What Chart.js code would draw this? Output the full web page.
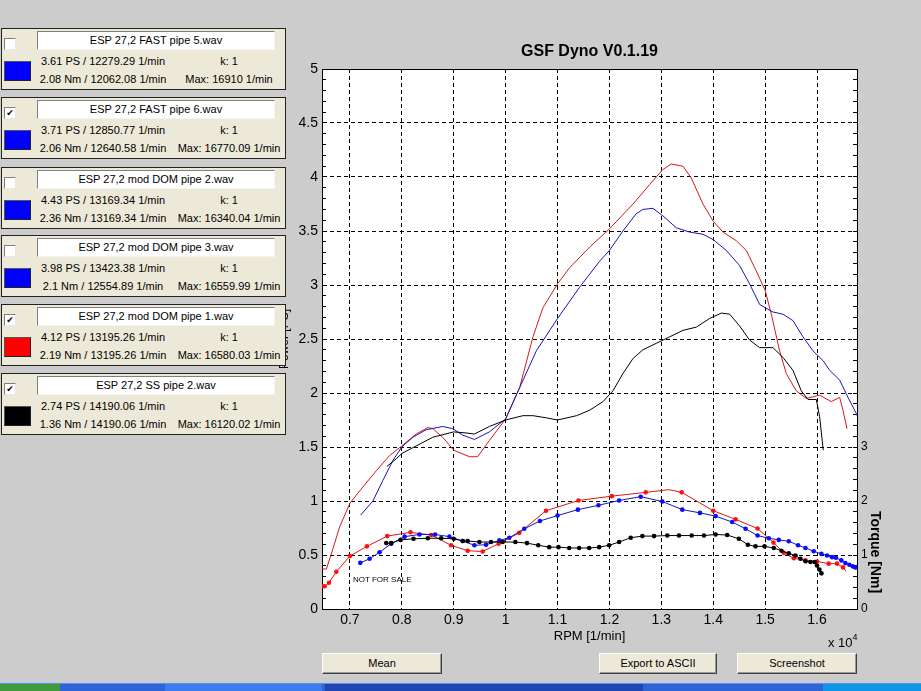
<!DOCTYPE html>
<html><head><meta charset="utf-8">
<script src="https://cdn.jsdelivr.net/npm/chart.js@4.4.1/dist/chart.umd.min.js"></script>
<style>
html,body{margin:0;padding:0;}
body{width:921px;height:691px;overflow:hidden;background:#cccccc;position:relative;font-family:"Liberation Sans",Arial,sans-serif;color:#000;}
#wrap{position:absolute;left:0;top:0;width:921px;height:691px;}
canvas{display:block;}
.panel{position:absolute;left:1px;width:283px;height:60px;border:1px solid #222;background:#ece9d8;z-index:5;}
.cb{position:absolute;left:2px;top:9px;width:10px;height:10px;background:#fff;border:1px solid;border-color:#808080 #e8e8e8 #e8e8e8 #808080;font-size:9px;line-height:10px;text-align:center;font-family:"DejaVu Sans",sans-serif;font-weight:bold;}
.tbox{position:absolute;left:35px;top:2px;width:236px;height:17px;background:#fff;border:1px solid;border-color:#808080 #f4f4f4 #f4f4f4 #808080;font-size:11px;line-height:17px;text-align:center;white-space:nowrap;}
.sw{position:absolute;left:2px;top:32px;width:25px;height:18px;border:1px solid;border-color:#555 #222 #222 #555;}
.txt{position:absolute;width:160px;margin-left:-80px;height:14px;line-height:14px;font-size:11px;text-align:center;white-space:nowrap;}
.btn{position:absolute;top:653px;height:19px;background:#ece9d8;border:1px solid;border-color:#fff #404040 #404040 #fff;box-shadow:inset -1px -1px #9a9a9a;font-size:11px;text-align:center;line-height:19px;}
#taskbar{position:absolute;left:0;top:683px;width:921px;height:8px;background:#2f64d6;border-top:1px solid #5a8df0;box-sizing:border-box;}
.tb{position:absolute;top:684px;height:7px;}
</style></head><body>
<div id="wrap"><canvas id="c" width="921" height="691"></canvas></div>
<div id="panels"></div>
<div style="position:absolute;left:353px;top:575px;font-size:8px;line-height:10px;white-space:nowrap;">NOT FOR SALE</div>
<div style="position:absolute;left:828px;top:635px;font-size:13px;line-height:16px;white-space:nowrap;">x 10<sup style="font-size:9px;vertical-align:7px;line-height:0;">4</sup></div>
<div style="position:absolute;left:876px;top:552px;width:0;height:0;"><div style="position:absolute;left:-60px;top:-9px;width:120px;height:18px;line-height:18px;text-align:center;font-size:14px;font-weight:bold;transform:rotate(90deg);white-space:nowrap;">Torque [Nm]</div></div>
<div class="btn" style="left:322px;width:118px;">Mean</div>
<div class="btn" style="left:599px;width:116px;">Export to ASCII</div>
<div class="btn" style="left:737px;width:118px;">Screenshot</div>
<div id="taskbar"></div>
<div class="tb" style="left:0;width:60px;background:#3d9a3d;"></div>
<div class="tb" style="left:165px;width:157px;background:#3b7cf0;"></div>
<div class="tb" style="left:325px;width:318px;background:#1e47b5;"></div>
<div class="tb" style="left:823px;width:98px;background:#0e97e8;"></div>
<script>
// ---------- DATA ----------
const xMin = 6462, xMax = 16770;
const xTickValues = [7000,8000,9000,10000,11000,12000,13000,14000,15000,16000];

// ESP 27,2 mod DOM pipe 1 (red)
const redPowerRpm = [6462,6546,6642,6802,7000,7250,7508,7763,8000,8277,8500,8596,8788,9000,9302,9462,9687,10000,10270,10527,10719,11000,11233,11618,12000,12455,12774,13031,13192,13417,13577,13802,14000,14188,14444,14637,14830,15000,15119,15279,15408,15600,15793,16050,16275,16436,16500,16577];
const redPowerPs  = [0.37,0.37,0.51,0.76,0.98,1.13,1.28,1.42,1.51,1.62,1.68,1.67,1.59,1.47,1.41,1.41,1.56,1.76,2.05,2.52,2.79,3.01,3.16,3.35,3.52,3.75,3.93,4.07,4.12,4.10,3.99,3.75,3.59,3.49,3.41,3.32,3.13,2.95,2.73,2.39,2.18,2.02,1.95,1.98,1.92,1.96,1.84,1.67];
const redTorqueRpm = [6462,6513,6596,6738,7000,7327,7719,8167,8565,8950,9269,9558,9865,10263,10777,11404,12046,12700,13148,13392,14000,14431,14854,15161,15360,15552,15777,16000,16225,16385,16500,16558];
const redTorqueNm  = [0.42,0.42,0.485,0.69,0.98,1.16,1.35,1.42,1.37,1.18,1.08,1.065,1.21,1.41,1.82,2.01,2.09,2.16,2.21,2.16,1.82,1.66,1.49,1.23,1.04,0.94,0.90,0.88,0.84,0.84,0.77,0.70];
const redTorqueMarked = [1,1,1,1,1,1,1,1,1,1,1,1,1,1,1,1,1,1,0,1,1,1,1,1,1,1,1,1,1,1,1,0];

// ESP 27,2 FAST pipe 6 (blue)
const bluePowerRpm = [7206,7443,7635,7827,8000,8212,8469,8788,8981,9173,9398,9687,10000,10270,10591,11000,11426,11811,12000,12260,12516,12645,12838,13031,13288,13545,13802,14000,14252,14509,14701,14894,15000,15151,15343,15536,15729,15922,16115,16243,16436,16596,16757,16770];
const bluePowerPs  = [0.87,1.00,1.19,1.375,1.50,1.59,1.66,1.69,1.67,1.61,1.57,1.64,1.76,2.05,2.39,2.69,2.98,3.22,3.32,3.50,3.66,3.70,3.71,3.64,3.53,3.49,3.47,3.42,3.32,3.18,3.01,2.82,2.79,2.75,2.73,2.67,2.52,2.39,2.30,2.21,2.12,1.96,1.81,1.79];
const blueTorqueRpm = [7200,7379,7571,7796,8052,8340,8642,8917,9173,9398,9623,9879,10071,10360,10661,11000,11392,11788,12186,12603,13019,13404,13744,14046,14365,14623,14854,15071,15263,15456,15635,15777,15936,16085,16192,16288,16365,16469,16546,16623,16687,16737];
const blueTorqueNm  = [0.855,0.93,1.05,1.21,1.34,1.38,1.38,1.34,1.26,1.18,1.19,1.27,1.32,1.485,1.63,1.73,1.84,1.92,2.01,2.08,1.99,1.84,1.78,1.72,1.61,1.485,1.36,1.31,1.28,1.255,1.18,1.13,1.07,1.02,0.99,0.96,0.95,0.90,0.85,0.82,0.79,0.77];

// ESP 27,2 SS pipe 2 (black)
const blackPowerRpm = [7712,7892,8000,8277,8596,9000,9238,9398,9687,10000,10334,10527,10784,11000,11366,11618,11875,12068,12260,12455,12645,12903,13160,13417,13674,13931,14155,14316,14509,14701,14894,15151,15343,15536,15697,15825,15986,16050,16120];
const blackPowerPs  = [1.32,1.39,1.44,1.51,1.59,1.64,1.63,1.62,1.69,1.75,1.79,1.79,1.77,1.75,1.79,1.84,1.92,2.02,2.18,2.32,2.40,2.46,2.52,2.58,2.61,2.69,2.74,2.73,2.62,2.49,2.42,2.42,2.33,2.21,2.02,1.94,1.94,1.78,1.47];
const blackTorqueRpm = [7700,7796,7975,8225,8500,8758,9000,9173,9269,9494,9719,9942,10187,10411,10629,10840,11019,11225,11417,11610,11802,11994,12186,12411,12635,12860,13115,13340,13585,13821,14046,14269,14494,14667,14815,14988,15167,15315,15456,15584,15680,15777,15873,15956,16000,16046,16085];
const blackTorqueNm  = [1.22,1.22,1.28,1.30,1.31,1.31,1.30,1.26,1.26,1.24,1.24,1.24,1.24,1.22,1.18,1.145,1.145,1.13,1.13,1.13,1.145,1.18,1.24,1.32,1.35,1.35,1.36,1.36,1.36,1.36,1.38,1.37,1.30,1.19,1.16,1.16,1.13,1.08,1.03,0.99,0.93,0.885,0.87,0.87,0.805,0.73,0.66];

// Legend panels
const panelTitles  = ["ESP 27,2 FAST pipe 5.wav","ESP 27,2 FAST pipe 6.wav","ESP 27,2 mod DOM pipe 2.wav","ESP 27,2 mod DOM pipe 3.wav","ESP 27,2 mod DOM pipe 1.wav","ESP 27,2 SS pipe 2.wav"];
const panelPower   = ["3.61 PS / 12279.29 1/min","3.71 PS / 12850.77 1/min","4.43 PS / 13169.34 1/min","3.98 PS / 13423.38 1/min","4.12 PS / 13195.26 1/min","2.74 PS / 14190.06 1/min"];
const panelTorque  = ["2.08 Nm / 12062.08 1/min","2.06 Nm / 12640.58 1/min","2.36 Nm / 13169.34 1/min","2.1 Nm / 12554.89 1/min","2.19 Nm / 13195.26 1/min","1.36 Nm / 14190.06 1/min"];
const panelK       = ["k: 1","k: 1","k: 1","k: 1","k: 1","k: 1"];
const panelMax     = ["Max: 16910 1/min","Max: 16770.09 1/min","Max: 16340.04 1/min","Max: 16559.99 1/min","Max: 16580.03 1/min","Max: 16120.02 1/min"];
const panelChecked = [false,true,false,false,true,true];
const panelColors  = ["#0000ff","#0000ff","#0000ff","#0000ff","#ff0000","#000000"];
const panelTops    = [28,97,167,235,304,373];

// ---------- PANELS ----------
const pc = document.getElementById('panels');
panelTitles.forEach((t,i)=>{
  const p = document.createElement('div');
  p.className='panel'; p.style.top = panelTops[i]+'px';
  p.innerHTML =
    '<div class="cb">'+(panelChecked[i]?'✔':'')+'</div>'+
    '<div class="tbox">'+t+'</div>'+
    '<div class="sw" style="background:'+panelColors[i]+'"></div>'+
    '<div class="txt" style="left:101px;top:25px">'+panelPower[i]+'</div>'+
    '<div class="txt" style="left:227px;top:25px">'+panelK[i]+'</div>'+
    '<div class="txt" style="left:101px;top:43px">'+panelTorque[i]+'</div>'+
    '<div class="txt" style="left:227px;top:43px">'+panelMax[i]+'</div>';
  pc.appendChild(p);
});

// ---------- CHART ----------
const pts = (xs, ys) => xs.map((x,i)=>({x:x, y:ys[i]}));
const isMajor = v => Math.abs(v*2 - Math.round(v*2)) < 1e-6;
const isInt = v => Math.abs(v - Math.round(v)) < 1e-6;
const FONT = '"Liberation Sans", Arial, sans-serif';
Chart.defaults.font.family = FONT;
Chart.defaults.color = '#000';

const RED_LINE = '#d81818', BLUE_LINE = '#1616b8', BLACK_LINE = '#000000';
const RED_PT = '#ff1010', BLUE_PT = '#0a0aff', BLACK_PT = '#000000';

const whiteArea = {
  id:'whiteArea',
  beforeDraw(chart){
    const {ctx, chartArea:a} = chart;
    ctx.save(); ctx.fillStyle='#ffffff';
    ctx.fillRect(a.left, a.top, a.right-a.left, a.bottom-a.top);
    ctx.restore();
  }
};

function powerDs(label, xs, ys, color){
  return {label, data:pts(xs,ys), yAxisID:'y', xAxisID:'x', borderColor:color, borderWidth:1, pointRadius:0, fill:false, tension:0};
}
function torqueDs(label, xs, ys, color, ptColor, marked){
  return {label, data:pts(xs,ys), yAxisID:'y1', xAxisID:'x', borderColor:color, borderWidth:1,
    pointRadius: marked ? (c => marked[c.dataIndex] ? 2.3 : 0) : 2.3,
    pointBackgroundColor:ptColor, pointBorderWidth:0, fill:false, tension:0};
}

new Chart(document.getElementById('c'), {
  type:'line',
  data:{datasets:[
    powerDs('SS pipe 2 power', blackPowerRpm, blackPowerPs, BLACK_LINE),
    powerDs('FAST pipe 6 power', bluePowerRpm, bluePowerPs, BLUE_LINE),
    powerDs('mod DOM pipe 1 power', redPowerRpm, redPowerPs, RED_LINE),
    torqueDs('SS pipe 2 torque', blackTorqueRpm, blackTorqueNm, BLACK_LINE, BLACK_PT),
    torqueDs('FAST pipe 6 torque', blueTorqueRpm, blueTorqueNm, BLUE_LINE, BLUE_PT),
    torqueDs('mod DOM pipe 1 torque', redTorqueRpm, redTorqueNm, RED_LINE, RED_PT, redTorqueMarked)
  ]},
  options:{
    responsive:false, animation:false, devicePixelRatio:1,
    layout:{padding:{left:277, right:31, top:0, bottom:0}},
    plugins:{
      legend:{display:false}, tooltip:{enabled:false},
      title:{display:true, text:'GSF Dyno V0.1.19', color:'#000', fullSize:false,
        font:{family:FONT, size:16, weight:'bold'}, padding:{top:42.4, bottom:7.4}}
    },
    scales:{
      x:{type:'linear', position:'bottom', min:xMin, max:xMax, bounds:'data',
        afterFit:s=>{s.height=82;},
        afterBuildTicks:s=>{s.ticks = xTickValues.map(v=>({value:v}));},
        ticks:{autoSkip:false, maxRotation:0, padding:3, color:'#000', font:{size:14},
          callback:v=>{const s=(v/10000).toFixed(1); return s.endsWith('.0')?s.slice(0,-2):s;}},
        grid:{color:'#000', lineWidth:1, drawTicks:false},
        border:{display:true, color:'#000', width:1, dash:[4,3]},
        title:{display:true, text:'RPM [1/min]', color:'#000', font:{size:13}, padding:{top:0, bottom:46.5}}
      },
      xTop:{type:'linear', position:'top', min:xMin, max:xMax, bounds:'data',
        afterFit:s=>{s.height=0;},
        ticks:{display:false},
        grid:{drawOnChartArea:false, drawTicks:false},
        border:{display:true, color:'#000', width:1}
      },
      y:{type:'linear', position:'left', min:0, max:5,
        afterFit:s=>{s.width=45;},
        ticks:{stepSize:0.1, autoSkip:false, padding:8, color:'#000', font:{size:14},
          callback:v=> isMajor(v) ? String(Number(v.toFixed(1))) : ''},
        grid:{color:c=> (c.tick && isMajor(c.tick.value)) ? '#000' : 'rgba(0,0,0,0)', tickColor:'#000', tickLength:-4, lineWidth:1},
        border:{display:true, color:'#000', width:1, dash:[4,3]},
        title:{display:true, text:'Power [PS]', color:'#000', font:{size:12}, padding:0}
      },
      y1:{type:'linear', position:'right', min:0, max:10,
        afterFit:s=>{s.width=33;},
        ticks:{stepSize:0.2, autoSkip:false, padding:8, color:'#000', font:{size:12},
          callback:v=> (isInt(v) && v <= 3) ? String(Math.round(v)) : ''},
        grid:{drawOnChartArea:false, tickColor:'#000', tickLength:-4},
        border:{display:true, color:'#000', width:1}
      }
    }
  },
  plugins:[whiteArea]
});
</script>
</body></html>
